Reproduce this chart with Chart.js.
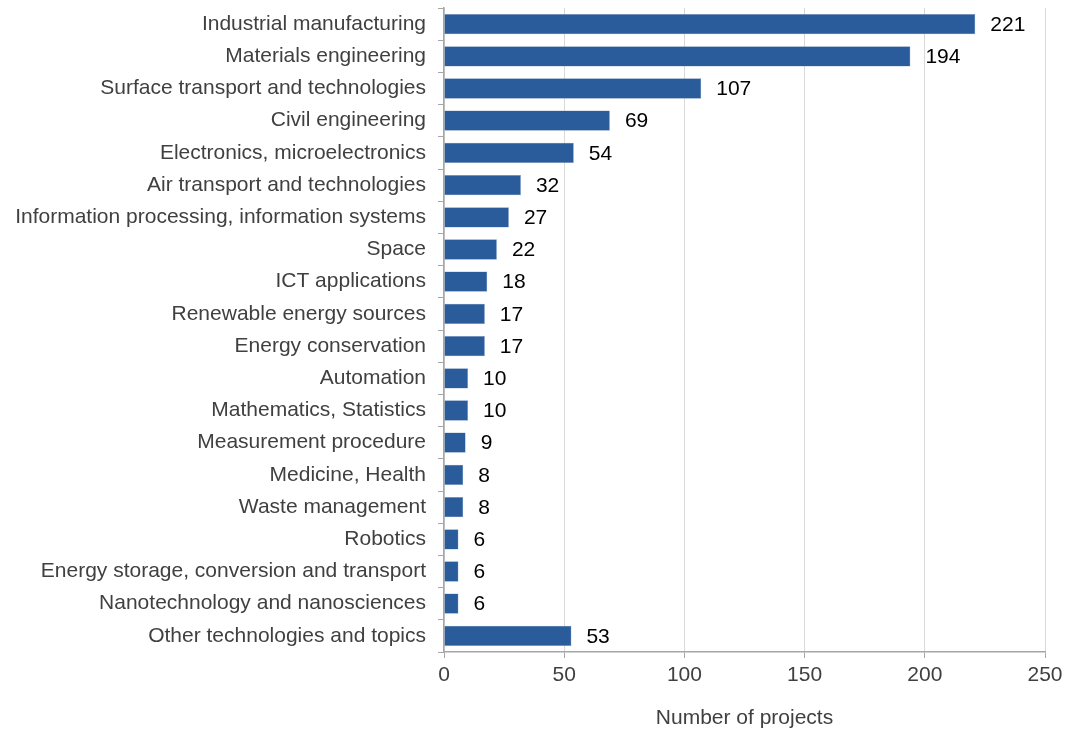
<!DOCTYPE html>
<html>
<head>
<meta charset="utf-8">
<script src="https://cdn.jsdelivr.net/npm/chart.js@4/dist/chart.umd.min.js"></script>
<style>
  html, body { margin: 0; padding: 0; background: #fff; }
  #wrap { width: 1067px; height: 731px; }
</style>
</head>
<body>
<div id="wrap"><canvas id="chart-topics"></canvas></div>
<script>
var topics = [
  'Industrial manufacturing',
  'Materials engineering',
  'Surface transport and technologies',
  'Civil engineering',
  'Electronics, microelectronics',
  'Air transport and technologies',
  'Information processing, information systems',
  'Space',
  'ICT applications',
  'Renewable energy sources',
  'Energy conservation',
  'Automation',
  'Mathematics, Statistics',
  'Measurement procedure',
  'Medicine, Health',
  'Waste management',
  'Robotics',
  'Energy storage, conversion and transport',
  'Nanotechnology and nanosciences',
  'Other technologies and topics'
];
var projects = [221, 194, 107, 69, 54, 32, 27, 22, 18, 17, 17, 10, 10, 9, 8, 8, 6, 6, 6, 53];
var axisTicks = [0, 50, 100, 150, 200, 250];

// value printed to the right of each bar
var barValues = {
  id: 'barValues',
  afterDatasetsDraw: function (chart) {
    var ctx = chart.ctx;
    var meta = chart.getDatasetMeta(0);
    ctx.save();
    ctx.font = '21px "Liberation Sans", Arial, sans-serif';
    ctx.fillStyle = '#000';
    ctx.textBaseline = 'middle';
    ctx.textAlign = 'left';
    meta.data.forEach((bar, i) => {
      ctx.fillText(String(projects[i]), bar.x + 15, bar.y + 1);
    });
    ctx.restore();
  },
};

Chart.defaults.font.family = '"Liberation Sans", Arial, sans-serif';
Chart.defaults.font.size = 21;
Chart.defaults.color = '#404040';

var ctx = document.getElementById('chart-topics').getContext('2d');
var chart = new Chart(ctx, {
  type: 'bar',
  plugins: [barValues],
  data: {
    labels: topics,
    datasets: [
      {
        label: 'Number of projects',
        data: projects,
        backgroundColor: '#2a5b9b',
        borderColor: '#7f9cc4',
        borderWidth: 0.5,
        categoryPercentage: 0.63,
        barPercentage: 1,
      },
    ],
  },
  options: {
    indexAxis: 'y',
    responsive: true,
    maintainAspectRatio: false,
    animation: false,
    layout: {
      padding: { top: 8, right: 22, left: 0, bottom: 0 },
    },
    plugins: {
      legend: { display: false },
      tooltip: { enabled: false },
    },
    scales: {
      x: {
        min: 0,
        max: 250,
        afterBuildTicks: function (scale) {
          scale.ticks = axisTicks.map((v) => ({ value: v }));
        },
        afterFit: function (scale) {
          scale.height = 79;
          scale.paddingLeft = 0;
          scale.paddingRight = 0;
        },
        grid: {
          color: '#d9d9d9',
          tickColor: '#a6a6a6',
          tickLength: 6,
          lineWidth: 1,
        },
        border: { color: '#a6a6a6', width: 1.5 },
        ticks: { padding: 5, color: '#404040' },
        title: {
          display: true,
          text: 'Number of projects',
          color: '#404040',
          font: { size: 21 },
          padding: { top: 10, bottom: 0 },
        },
      },
      y: {
        afterFit: function (scale) {
          scale.width = 444;
          scale.paddingTop = 0;
          scale.paddingBottom = 0;
        },
        grid: {
          offset: true,
          drawOnChartArea: false,
          tickColor: '#a6a6a6',
          tickLength: 6,
        },
        border: { color: '#a6a6a6', width: 1.5 },
        ticks: { padding: 12, color: '#404040', autoSkip: false },
      },
    },
  },
});
</script>
</body>
</html>
